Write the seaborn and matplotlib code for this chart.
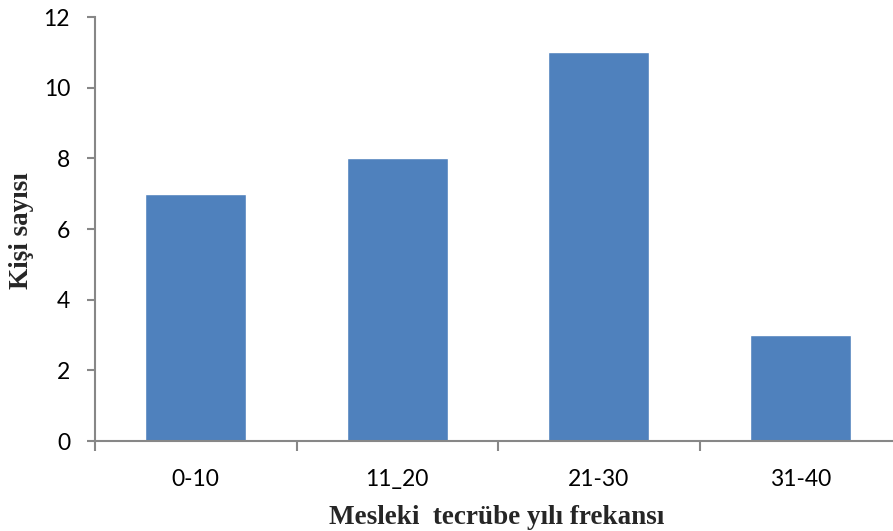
import matplotlib
matplotlib.use("Agg")
import matplotlib.pyplot as plt
import seaborn as sns
import pandas as pd
from matplotlib.ticker import FixedLocator

categories = ["0-10", "11_20", "21-30", "31-40"]
counts = [7, 8, 11, 3]
y_ticks = [0, 2, 4, 6, 8, 10, 12]

df = pd.DataFrame({"cat": categories, "n": counts})

sns.set_theme(style="white")
plt.rcParams['font.family'] = ['Lato', 'DejaVu Sans']

W, H = 893, 531
fig = plt.figure(figsize=(W / 100, H / 100), dpi=100)
ax = fig.add_axes([95 / W, 90 / H, 806 / W, 424 / H])

sns.barplot(data=df, x="cat", y="n", color="#4F81BD", saturation=1, width=0.5, ax=ax)

ax.set_xlim(-0.5, 3.5)
ax.set_ylim(0, 12)
ax.set_yticks(y_ticks)

axis_col = "#878787"
for s in ["top", "right"]:
    ax.spines[s].set_visible(False)
for s in ["left", "bottom"]:
    ax.spines[s].set_color(axis_col)
    ax.spines[s].set_linewidth(1.5)

ax.tick_params(axis="y", which="major", length=6, width=1.5, color=axis_col,
               direction="out", pad=12, labelsize=16.5, labelcolor="black")
ax.tick_params(axis="x", which="major", length=0, pad=20, labelsize=16.5, labelcolor="black")
ax.xaxis.set_minor_locator(FixedLocator([-0.5, 0.5, 1.5, 2.5, 3.5]))
ax.tick_params(axis="x", which="minor", length=7, width=1.5, color=axis_col, direction="out")
ax.tick_params(axis="y", left=True)
ax.tick_params(axis="x", which="minor", bottom=True)

ax.set_xlabel("")
ax.set_ylabel("")
fig.text(497 / W, 1 - 517 / H, "Mesleki  tecrübe yılı frekansı", ha="center", va="center",
         fontsize=19.5, fontweight="bold", family=["Liberation Serif", "DejaVu Serif"])
fig.text(22 / W, 1 - 231 / H, "Kişi sayısı", ha="center", va="center", rotation=90,
         fontsize=19.5, fontweight="bold", family=["Liberation Serif", "DejaVu Serif"])

fig.savefig("out.png", dpi=100)
